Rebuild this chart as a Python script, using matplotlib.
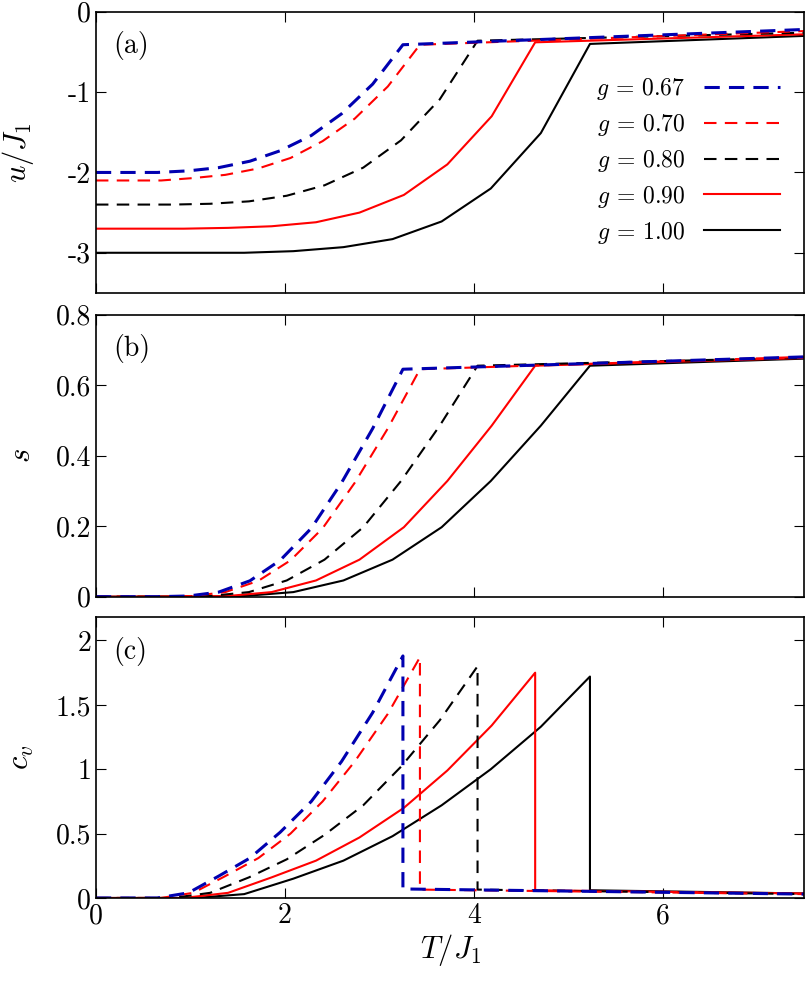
import matplotlib
matplotlib.use("Agg")
import matplotlib.pyplot as plt

plt.rcParams["font.family"] = "cmr10"
plt.rcParams["mathtext.fontset"] = "cm"
plt.rcParams["axes.unicode_minus"] = False

g_labels = ["0.67", "0.70", "0.80", "0.90", "1.00"]
colors = ["#0000b0", "#ff0000", "#000000", "#ff0000", "#000000"]
styles = ["--", "--", "--", "-", "-"]
widths = [2.2, 1.5, 1.5, 1.5, 1.5]

# temperature grids up to the transition, then the high-T end point
T_067 = [0, 0.65, 0.98, 1.30, 1.63, 1.95, 2.28, 2.60, 2.93, 3.25, 7.5]
T_070 = [0, 0.69, 1.03, 1.37, 1.72, 2.06, 2.40, 2.74, 3.09, 3.43, 7.5]
T_080 = [0, 0.81, 1.21, 1.62, 2.02, 2.42, 2.83, 3.23, 3.64, 4.04, 7.5]
T_090 = [0, 0.93, 1.40, 1.86, 2.33, 2.79, 3.26, 3.72, 4.19, 4.65, 7.5]
T_100 = [0, 1.05, 1.57, 2.09, 2.62, 3.14, 3.66, 4.18, 4.71, 5.23, 7.5]

u_067 = [-2.0, -2.0, -1.98, -1.94, -1.86, -1.73, -1.54, -1.27, -0.90, -0.41, -0.22]
u_070 = [-2.1, -2.1, -2.07, -2.03, -1.95, -1.82, -1.61, -1.33, -0.93, -0.41, -0.24]
u_080 = [-2.4, -2.4, -2.39, -2.36, -2.29, -2.16, -1.94, -1.60, -1.09, -0.36, -0.26]
u_090 = [-2.7, -2.7, -2.69, -2.67, -2.62, -2.50, -2.28, -1.90, -1.30, -0.38, -0.28]
u_100 = [-3.0, -3.0, -3.0, -2.98, -2.93, -2.83, -2.61, -2.20, -1.51, -0.40, -0.30]

s_067 = [0, 0, 0.002, 0.013, 0.045, 0.103, 0.194, 0.323, 0.477, 0.645, 0.680]
s_070 = [0, 0, 0.002, 0.013, 0.045, 0.103, 0.194, 0.323, 0.477, 0.645, 0.680]
s_080 = [0, 0, 0.002, 0.013, 0.046, 0.105, 0.197, 0.328, 0.485, 0.655, 0.678]
s_090 = [0, 0, 0.002, 0.013, 0.046, 0.105, 0.197, 0.328, 0.485, 0.655, 0.677]
s_100 = [0, 0, 0.002, 0.013, 0.046, 0.105, 0.197, 0.328, 0.485, 0.655, 0.675]

# specific heat: rise, jump down at Tc, then slow tail
cT_067 = T_067[:10] + [3.25, 7.5]
cT_070 = T_070[:10] + [3.43, 7.5]
cT_080 = T_080[:10] + [4.04, 7.5]
cT_090 = T_090[:10] + [4.65, 7.5]
cT_100 = T_100[:10] + [5.23, 7.5]
c_067 = [0, 0, 0.04, 0.17, 0.31, 0.51, 0.75, 1.06, 1.44, 1.88, 0.07, 0.03]
c_070 = [0, 0, 0.04, 0.17, 0.31, 0.50, 0.75, 1.06, 1.43, 1.87, 0.065, 0.03]
c_080 = [0, 0, 0.04, 0.16, 0.30, 0.49, 0.72, 1.02, 1.38, 1.80, 0.065, 0.03]
c_090 = [0, 0, 0.04, 0.16, 0.29, 0.47, 0.70, 0.99, 1.34, 1.75, 0.06, 0.035]
c_100 = [0, 0, 0.03, 0.15, 0.29, 0.48, 0.72, 1.00, 1.33, 1.72, 0.06, 0.035]

Ts = [T_067, T_070, T_080, T_090, T_100]
us = [u_067, u_070, u_080, u_090, u_100]
ss = [s_067, s_070, s_080, s_090, s_100]
cTs = [cT_067, cT_070, cT_080, cT_090, cT_100]
cs = [c_067, c_070, c_080, c_090, c_100]

fig = plt.figure(figsize=(8.06, 9.83), dpi=100)
L, W = 0.119, 0.879
ax_a = fig.add_axes([L, 0.702, W, 0.286])
ax_b = fig.add_axes([L, 0.393, W, 0.287])
ax_c = fig.add_axes([L, 0.0865, W, 0.2855])

order = [4, 3, 2, 1, 0]
for i in order:
    kw = dict(color=colors[i], ls=styles[i], lw=widths[i])
    if styles[i] == "--":
        kw["dashes"] = (5, 3) if i == 0 else (6, 4)
    ax_a.plot(Ts[i], us[i], label=f"$g$ = {g_labels[i]}", **kw)
    ax_b.plot(Ts[i], ss[i], **kw)
    ax_c.plot(cTs[i], cs[i], **kw)

h, l = ax_a.get_legend_handles_labels()
ax_a.legend(h[::-1], l[::-1], loc="center right", bbox_to_anchor=(0.995, 0.47),
            frameon=False, markerfirst=False, fontsize=17, handlelength=3.2,
            labelspacing=0.42)

for ax in (ax_a, ax_b, ax_c):
    ax.set_xlim(0, 7.5)
    ax.set_xticks([0, 2, 4, 6])
    ax.tick_params(direction="in", top=True, right=True, labelsize=20, length=7)
    for sp in ax.spines.values():
        sp.set_linewidth(1.2)
for ax in (ax_a, ax_b):
    ax.set_xticklabels([])
ax_c.set_xticklabels(["0", "2", "4", "6"])

ax_a.set_ylim(-3.5, 0)
ax_a.set_yticks([0, -1, -2, -3])
ax_a.set_yticklabels(["0", "-1", "-2", "-3"])
ax_b.set_ylim(0, 0.8)
ax_b.set_yticks([0, 0.2, 0.4, 0.6, 0.8])
ax_b.set_yticklabels(["0", "0.2", "0.4", "0.6", "0.8"])
ax_c.set_ylim(0, 2.18)
ax_c.set_yticks([0, 0.5, 1, 1.5, 2])
ax_c.set_yticklabels(["0", "0.5", "1", "1.5", "2"])

ax_a.set_ylabel("$u/J_1$", fontsize=22)
ax_b.set_ylabel("$s$", fontsize=22)
ax_c.set_ylabel("$c_v$", fontsize=22)
ax_c.set_xlabel("$T/J_1$", fontsize=22, labelpad=2)
for ax in (ax_a, ax_b, ax_c):
    ax.yaxis.set_label_coords(-0.085, 0.5)

for ax, t in zip((ax_a, ax_b, ax_c), ("(a)", "(b)", "(c)")):
    ax.text(0.025, 0.93, t, transform=ax.transAxes, fontsize=20, va="top")

fig.savefig("out.png", dpi=100)
